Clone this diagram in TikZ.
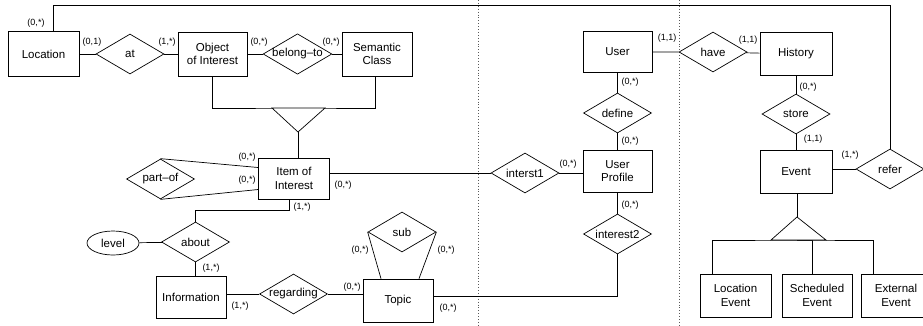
\documentclass[tikz,border=0pt]{standalone}
\usepackage{fontspec}
\setmainfont{Liberation Sans}
\usetikzlibrary{shapes.geometric,calc}

\tikzset{
  entity/.style={draw,rectangle,minimum width=70pt,minimum height=43pt,align=center,
    font=\fontsize{11.5}{13.5}\selectfont,inner sep=1pt},
  rel/.style={draw,diamond,aspect=1.7,minimum width=68pt,minimum height=40pt,inner sep=0pt,
    font=\fontsize{11.5}{13.5}\selectfont,fill=white},
  attr/.style={draw,ellipse,minimum width=52pt,minimum height=24pt,inner sep=0pt,
    font=\fontsize{11.5}{13.5}\selectfont},
  card/.style={font=\fontsize{9}{10}\selectfont,inner sep=0pt},
  part/.style={draw=black!65,dotted,line width=0.9pt}
}

\begin{document}
\begin{tikzpicture}[x=1pt,y=-1pt,line width=0.7pt]
  \useasboundingbox (0,0) rectangle (923,325);
  % dotted separators
  \draw[part] (478,0) -- (478,325);
  \draw[part] (679,0) -- (679,325);

  % entities
  \node[entity,minimum width=71pt,minimum height=45pt] (loc) at (43.5,54) {Location};
  \node[entity,minimum width=69pt,minimum height=44pt] (obj) at (212.5,54) {Object\\of Interest};
  \node[entity,minimum height=44pt] (sem) at (377,54) {Semantic\\Class};
  \node[entity,minimum width=71pt,minimum height=41pt] (item) at (294,178.5) {Item of\\Interest};
  \node[entity,minimum height=42pt] (info) at (191,297) {Information};
  \node[entity] (topic) at (398,300.5) {Topic};
  \node[entity,minimum width=69pt,minimum height=41pt] (user) at (617.5,52) {User};
  \node[entity,minimum width=69pt,minimum height=42pt] (prof) at (617.5,171) {User\\Profile};
  \node[entity,minimum width=72pt] (hist) at (796,54) {History};
  \node[entity,minimum width=72pt] (event) at (796,171.5) {Event};
  \node[entity,minimum width=71pt] (locev) at (735.5,295.5) {Location\\Event};
  \node[entity] (schev) at (817,295.5) {Scheduled\\Event};
  \node[entity] (extev) at (896,295.5) {External\\Event};

  % relationships
  \node[rel] (at) at (130,54) {at};
  \node[rel] (belong) at (297.5,54) {belong--to};
  \node[rel] (partof) at (160.5,179) {part--of};
  \node[rel] (about) at (195.5,242) {about};
  \node[rel] (regard) at (293.5,294) {regarding};
  \node[rel] (sub) at (402,232) {sub};
  \node[rel] (int1) at (525,173) {interst1};
  \node[rel] (define) at (617.5,113) {define};
  \node[rel] (int2) at (617.5,234) {interest2};
  \node[rel] (have) at (713,52) {have};
  \node[rel] (store) at (796,114) {store};
  \node[rel] (refer) at (890,169) {refer};
  \node[attr] (level) at (113,243) {level};

  % connectors
  \draw (loc) -- (at) -- (obj) -- (belong) -- (sem);
  \draw ([xshift=9.5pt]loc.north) -- ++(0,-26) -| (refer.north);
  \coordinate (g1) at (298,108);
  \draw (obj.south) |- (g1) -| ([xshift=-2pt]sem.south);
  \draw[fill=white] (272,108) -- (298,132) coordinate (g1tip) -- (325,108) -- cycle;
  \draw (g1tip) -- (g1tip |- item.north);
  \draw (partof.north) -- ([yshift=11pt]item.west);
  \draw (partof.south) -- ([yshift=-11pt]item.west);
  \draw (int1.west -| item.east) -- (int1.west);
  \draw (int1.east) -- (int1.east -| prof.west);
  \draw ([xshift=-5pt]item.south) -- ++(0,11) -| (about.north);
  \draw (level) -- (about);
  \draw (about.south) -- (about.south |- info.north);
  \draw (info.east |- regard.west) -- (regard.west);
  \draw (regard.east) -- (regard.east -| topic.west);
  \draw (sub.west) -- ([xshift=-17pt]topic.north);
  \draw (sub.east) -- ([xshift=21pt]topic.north);
  \draw ([yshift=4.5pt]topic.east) -| (int2.south);
  \draw (user) -- (define) -- (prof) -- (int2);
  \draw (user) -- (have) -- (hist);
  \draw (hist) -- (store) -- (event);
  \draw (event.east |- refer.west) -- (refer.west);
  \coordinate (g2) at (797,240);
  \draw (event.south -| g2) -- (797,217);
  \draw ([xshift=-23.5pt]locev.north) |- (g2) -| ([xshift=-23pt]extev.north);
  \draw ([xshift=-5pt]schev.north) |- (g2);
  \draw[fill=white] (771,240) -- (797,217) -- (826,240) -- cycle;

  % cardinalities
  \node[card] (c1) at (36,23) {(0,*)};
  \node[card] (c2) at (92,42) {(0,1)};
  \node[card] (c3) at (167,42) {(1,*)};
  \node[card] (c4) at (259,42) {(0,*)};
  \node[card] (c5) at (331,42) {(0,*)};
  \node[card] (c6) at (247,157) {(0,*)};
  \node[card] (c7) at (247,180) {(0,*)};
  \node[card] (c8) at (343,185) {(0,*)};
  \node[card] (c9) at (302,207) {(1,*)};
  \node[card] (c10) at (211,268) {(1,*)};
  \node[card] (c11) at (240,306) {(1,*)};
  \node[card] (c12) at (352,287) {(0,*)};
  \node[card] (c13) at (360,250) {(0,*)};
  \node[card] (c14) at (446,250) {(0,*)};
  \node[card] (c15) at (448,308) {(0,*)};
  \node[card] (c16) at (568,164) {(0,*)};
  \node[card] (c17) at (630,82) {(0,*)};
  \node[card] (c18) at (630,141) {(0,*)};
  \node[card] (c19) at (630,205) {(0,*)};
  \node[card] (c20) at (667,38) {(1,1)};
  \node[card] (c21) at (748,40) {(1,1)};
  \node[card] (c22) at (808,87) {(0,*)};
  \node[card] (c23) at (813,139) {(1,1)};
  \node[card] (c24) at (850,155) {(1,*)};
\end{tikzpicture}
\end{document}
